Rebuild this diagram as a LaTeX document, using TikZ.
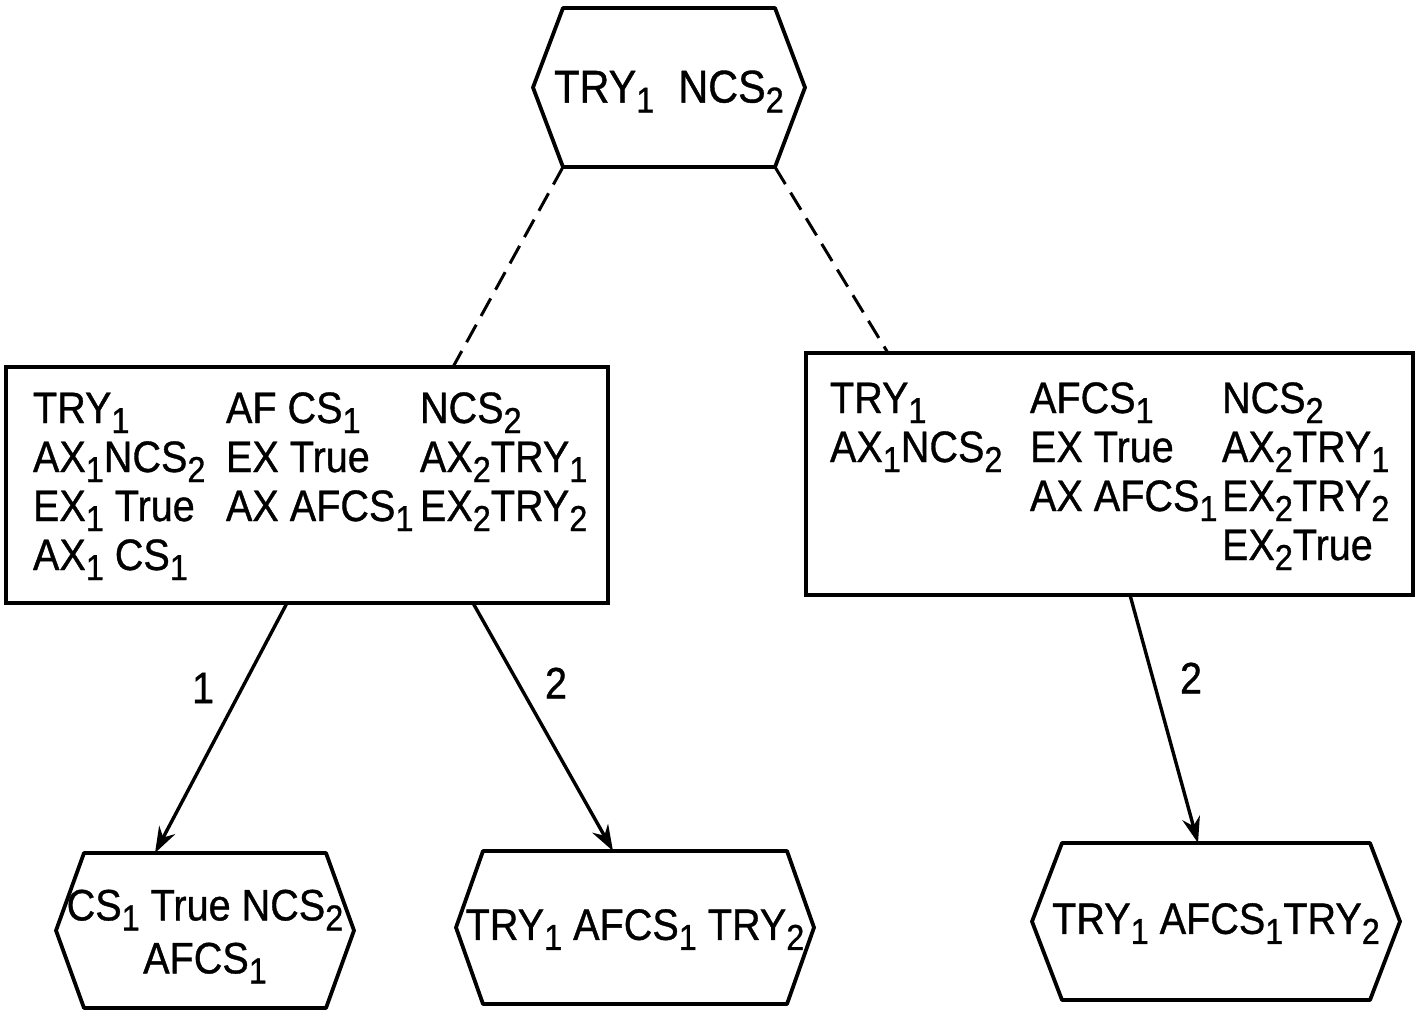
\documentclass[tikz,border=0pt]{standalone}
\usepackage{fontspec}
\setmainfont{Liberation Sans}[FakeStretch=0.9,FakeBold=0.8]
\usetikzlibrary{arrows.meta,calc}
\newcommand\sbs[1]{\raisebox{-5pt}{\fontsize{18}{18}\selectfont #1}}
\newcommand\hexdraw[2]{\draw[hexline] (#1.north west) -- (#1.north east) -- ([xshift=#2]#1.east) -- (#1.south east) -- (#1.south west) -- ([xshift=-#2]#1.west) -- cycle;}
\begin{document}
\begin{tikzpicture}[x=0.5pt,y=-0.5pt,
  every node/.style={font=\fontsize{22}{24.5}\selectfont},
  hexcore/.style={inner sep=0pt,outer sep=0pt},
  hextext/.style={inner sep=0pt,outer sep=0pt,align=center},
  hexline/.style={line width=1.9pt,line join=round},
  boxnode/.style={draw,line width=1.9pt,inner sep=0pt,outer sep=0pt},
  cols/.style={anchor=base west,inner sep=0pt,outer sep=0pt},
  dashline/.style={line width=1.5pt,dash pattern=on 10pt off 5pt},
  arr/.style={line width=1.7pt,-{Stealth[length=13pt,width=9pt]}},
  lbl/.style={inner sep=0pt}
]
\useasboundingbox (0,0) rectangle (1424,1014);

% top hexagon
\node[hexcore,minimum width=106pt,minimum height=79.5pt] (top) at (669,87.5) {};
\hexdraw{top}{15pt}
\node[hextext,font=\fontsize{23}{25}\selectfont] (toptext) at ([yshift=-2pt]top.center)
  {TRY\sbs{1}\hspace{12pt}NCS\sbs{2}};

% left box
\node[boxnode,minimum width=301pt,minimum height=118pt] (L) at (307,485) {};
\node[cols] (Ltext) at (33,423) {%
\begin{tabular}[t]{@{}p{96.5pt}@{}p{97pt}@{}l@{}}
TRY\sbs{1} & AF CS\sbs{1} & NCS\sbs{2}\\
AX\sbs{1}NCS\sbs{2} & EX True & AX\sbs{2}TRY\sbs{1}\\
EX\sbs{1} True & AX AFCS\sbs{1} & EX\sbs{2}TRY\sbs{2}\\
AX\sbs{1} CS\sbs{1} & & \\
\end{tabular}};

% right box
\node[boxnode,minimum width=303.5pt,minimum height=121pt] (R) at (1109.5,474) {};
\node[cols] (Rtext) at (830,413) {%
\begin{tabular}[t]{@{}p{100pt}@{}p{96pt}@{}l@{}}
TRY\sbs{1} & AFCS\sbs{1} & NCS\sbs{2}\\
AX\sbs{1}NCS\sbs{2} & EX True & AX\sbs{2}TRY\sbs{1}\\
 & AX AFCS\sbs{1} & EX\sbs{2}TRY\sbs{2}\\
 & & EX\sbs{2}True\\
\end{tabular}};

% bottom hexagons
\node[hexcore,minimum width=121pt,minimum height=77.5pt] (BL) at (205,930.5) {};
\hexdraw{BL}{14pt}
\node[hextext] (BLtext) at ([yshift=-3pt]BL.center)
  {CS\sbs{1} True NCS\sbs{2}\\[2pt] AFCS\sbs{1}};

\node[hexcore,minimum width=152pt,minimum height=76.5pt] (BM) at (635,927.5) {};
\hexdraw{BM}{13.5pt}
\node[hextext] (BMtext) at ([yshift=-1pt]BM.center)
  {TRY\sbs{1} AFCS\sbs{1} TRY\sbs{2}};

\node[hexcore,minimum width=154pt,minimum height=78.5pt] (BR) at (1216,921.5) {};
\hexdraw{BR}{15pt}
\node[hextext] (BRtext) at ([yshift=-1pt]BR.center)
  {TRY\sbs{1} AFCS\sbs{1}TRY\sbs{2}};

% dashed connectors
\draw[dashline] (top.south west) -- ($(L.north west)+(447,0)$);
\draw[dashline] (top.south east) -- ($(R.north west)+(82,0)$);

% arrows
\draw[arr] ($(L.south west)+(281,0)$) -- ($(BL.north west)+(71,0)$);
\draw[arr] ($(L.south west)+(467,0)$) -- ($(BM.north west)+(130,0)$);
\draw[arr] ($(R.south west)+(324,0)$) -- ($(BR.north west)+(136,0)$);

% labels
\node[lbl] (l1) at (203,688) {1};
\node[lbl] (l2) at (556,683) {2};
\node[lbl] (l3) at (1191,678) {2};
\end{tikzpicture}
\end{document}
